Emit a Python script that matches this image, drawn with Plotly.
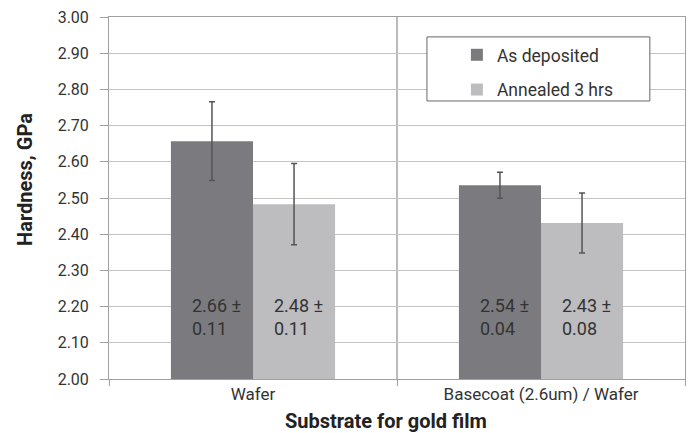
import plotly.graph_objects as go

categories = ["Wafer", "Basecoat (2.6um) / Wafer"]
as_deposited = [2.657, 2.535]
as_deposited_err = [0.109, 0.036]
annealed = [2.483, 2.431]
annealed_err = [0.112, 0.083]
as_dep_labels = ["2.66 ±<br>0.11", "2.54 ±<br>0.04"]
annealed_labels = ["2.48 ±<br>0.11", "2.43 ±<br>0.08"]
y_ticks = [2.0, 2.1, 2.2, 2.3, 2.4, 2.5, 2.6, 2.7, 2.8, 2.9, 3.0]
y_tick_labels = [f"{v:.2f}" for v in y_ticks]

FONT = "Roboto"
fig = go.Figure()
fig.add_trace(go.Bar(
    name="As deposited", x=categories, y=as_deposited, legendgroup="a",
    marker=dict(color="#7b7b7f", line=dict(width=0)),
    error_y=dict(type="data", array=as_deposited_err, color="#555555", thickness=1.5, width=3),
))
fig.add_trace(go.Bar(
    name="Annealed 3 hrs", x=categories, y=annealed, legendgroup="b",
    marker=dict(color="#bdbdbf", line=dict(width=0)),
    error_y=dict(type="data", array=annealed_err, color="#555555", thickness=1.5, width=3),
))

for cat, t in zip(categories, as_dep_labels):
    fig.add_annotation(x=cat, y=2.17, text=t, showarrow=False, xanchor="left", yanchor="middle",
                       align="left", xshift=-63, font=dict(family=FONT, size=18, color="#333333"))
for cat, t in zip(categories, annealed_labels):
    fig.add_annotation(x=cat, y=2.17, text=t, showarrow=False, xanchor="left", yanchor="middle",
                       align="left", xshift=19, font=dict(family=FONT, size=18, color="#333333"))

# axis titles
fig.add_annotation(xref="paper", yref="paper", x=0.481, y=-0.116, text="<b>Substrate for gold film</b>",
                   showarrow=False, xanchor="center", yanchor="middle",
                   font=dict(family=FONT, size=20, color="#222222"))
fig.add_annotation(xref="paper", yref="paper", x=-0.1458, y=0.55, text="<b>Hardness, GPa</b>",
                   showarrow=False, xanchor="center", yanchor="middle", textangle=-90,
                   font=dict(family=FONT, size=20, color="#222222"))

# legend frame
fig.add_shape(type="rect", xref="paper", yref="paper", x0=0.552, x1=0.939, y0=0.768, y1=0.945,
              line=dict(color="#666666", width=1), fillcolor="white", layer="above")

fig.update_layout(
    width=689, height=433,
    margin=dict(l=109, r=4, t=17, b=54),
    paper_bgcolor="white", plot_bgcolor="white",
    barmode="group", bargap=0.43, bargroupgap=0,
    font=dict(family=FONT, size=16, color="#333333"),
    showlegend=True,
    legend=dict(x=0.604, y=0.945, xanchor="left", yanchor="top",
                bgcolor="rgba(0,0,0,0)", borderwidth=0,
                font=dict(family=FONT, size=17.5, color="#333333"),
                traceorder="grouped", tracegroupgap=9),
)
fig.update_yaxes(
    range=[2.0, 3.0], tickvals=y_ticks, ticktext=[s + "\u00a0\u00a0" for s in y_tick_labels],
    automargin=False,
    showgrid=True, gridcolor="#c4c4c4", gridwidth=1,
    showline=True, linecolor="#a0a0a0", linewidth=1, mirror=True,
    ticks="outside", ticklen=8, tickcolor="#a0a0a0",
    tickfont=dict(family=FONT, size=16, color="#333333"),
    zeroline=False,
)
fig.update_xaxes(
    tickson="boundaries", ticks="outside", ticklen=6, tickcolor="#a0a0a0", automargin=False,
    showgrid=True, gridcolor="#bbbbbb", gridwidth=2,
    showline=True, linecolor="#a0a0a0", linewidth=1, mirror=True,
    tickfont=dict(family=FONT, size=17, color="#333333"),
)

fig.write_html("out.html", config={"displayModeBar": False},
               post_script="document.body.style.margin='0';document.body.style.padding='0';")
